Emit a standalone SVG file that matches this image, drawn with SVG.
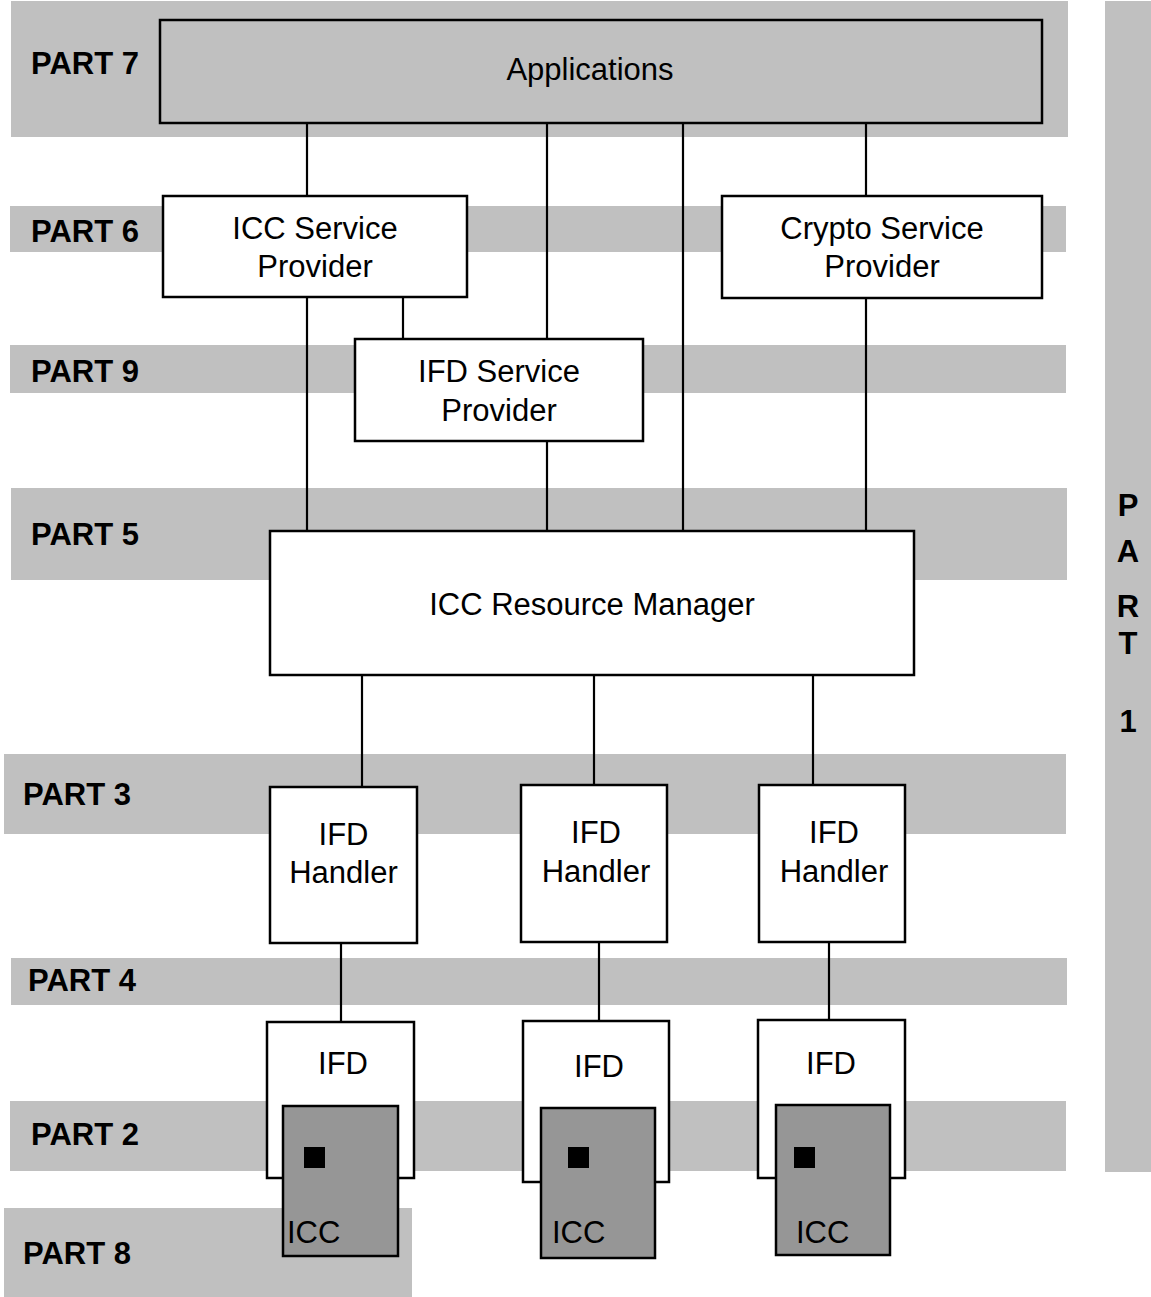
<svg xmlns="http://www.w3.org/2000/svg" width="1151" height="1297" viewBox="0 0 1151 1297">
<style>
.band{fill:#c0c0c0;stroke:none}
.lbl{font-family:"Liberation Sans",Arial,sans-serif;font-weight:bold;font-size:31px;fill:#000}
.txt{font-family:"Liberation Sans",Arial,sans-serif;font-size:31px;fill:#000;text-anchor:middle}
.box{fill:#fff;stroke:#000;stroke-width:2.5}
.open{fill:none;stroke:#000;stroke-width:2.5}
.card{fill:#969696;stroke:#000;stroke-width:2.5}
.chip{fill:#000}
.conn line{stroke:#000;stroke-width:2.2}
</style>
<g id="bands">
<rect class="band" x="11" y="1" width="1057" height="136"/>
<rect class="band" x="10" y="206" width="1056" height="46"/>
<rect class="band" x="10" y="345" width="1056" height="48"/>
<rect class="band" x="11" y="488" width="1056" height="92"/>
<rect class="band" x="4" y="754" width="1062" height="80"/>
<rect class="band" x="11" y="958" width="1056" height="47"/>
<rect class="band" x="10" y="1101" width="1056" height="70"/>
<rect class="band" x="4" y="1208" width="408" height="89"/>
<rect class="band" x="1105" y="1" width="46" height="1171"/>
</g>
<g id="labels">
<text class="lbl" x="31" y="74">PART 7</text>
<text class="lbl" x="31" y="242">PART 6</text>
<text class="lbl" x="31" y="382">PART 9</text>
<text class="lbl" x="31" y="545">PART 5</text>
<text class="lbl" x="23" y="805">PART 3</text>
<text class="lbl" x="28" y="991">PART 4</text>
<text class="lbl" x="31" y="1145">PART 2</text>
<text class="lbl" x="23" y="1264">PART 8</text>
<g class="lbl" text-anchor="middle">
<text x="1128" y="516">P</text>
<text x="1128" y="562">A</text>
<text x="1128" y="617">R</text>
<text x="1128" y="654">T</text>
<text x="1128" y="732">1</text>
</g>
</g>
<g class="conn" id="connectors">
<line x1="307" y1="123" x2="307" y2="196"/>
<line x1="547" y1="123" x2="547" y2="339"/>
<line x1="683" y1="123" x2="683" y2="531"/>
<line x1="866" y1="123" x2="866" y2="196"/>
<line x1="307" y1="297" x2="307" y2="531"/>
<line x1="403" y1="297" x2="403" y2="339"/>
<line x1="547" y1="441" x2="547" y2="531"/>
<line x1="866" y1="298" x2="866" y2="531"/>
<line x1="362" y1="675" x2="362" y2="787"/>
<line x1="594" y1="675" x2="594" y2="785"/>
<line x1="813" y1="675" x2="813" y2="785"/>
<line x1="341" y1="943" x2="341" y2="1022"/>
<line x1="599" y1="942" x2="599" y2="1021"/>
<line x1="829" y1="942" x2="829" y2="1020"/>
</g>
<g id="applications">
<rect class="open" x="160" y="20" width="882" height="103"/>
<text class="txt" x="590" y="80">Applications</text>
</g>
<g id="icc-sp">
<rect class="box" x="163" y="196" width="304" height="101"/>
<text class="txt" x="315" y="239">ICC Service</text>
<text class="txt" x="315" y="277">Provider</text>
</g>
<g id="crypto-sp">
<rect class="box" x="722" y="196" width="320" height="102"/>
<text class="txt" x="882" y="239">Crypto Service</text>
<text class="txt" x="882" y="277">Provider</text>
</g>
<g id="ifd-sp">
<rect class="box" x="355" y="339" width="288" height="102"/>
<text class="txt" x="499" y="382">IFD Service</text>
<text class="txt" x="499" y="421">Provider</text>
</g>
<g id="icc-rm">
<rect class="box" x="270" y="531" width="644" height="144"/>
<text class="txt" x="592" y="615">ICC Resource Manager</text>
</g>
<g id="handler1">
<rect class="box" x="270" y="787" width="147" height="156"/>
<text class="txt" x="343.5" y="845">IFD</text>
<text class="txt" x="343.5" y="883">Handler</text>
</g>
<g id="handler2">
<rect class="box" x="521" y="785" width="146" height="157"/>
<text class="txt" x="596" y="843">IFD</text>
<text class="txt" x="596" y="882">Handler</text>
</g>
<g id="handler3">
<rect class="box" x="759" y="785" width="146" height="157"/>
<text class="txt" x="834" y="843">IFD</text>
<text class="txt" x="834" y="882">Handler</text>
</g>
<g id="ifd1">
<rect class="box" x="267" y="1022" width="147" height="156"/>
<text class="txt" x="343" y="1074">IFD</text>
</g>
<g id="ifd2">
<rect class="box" x="523" y="1021" width="146" height="161"/>
<text class="txt" x="599" y="1077">IFD</text>
</g>
<g id="ifd3">
<rect class="box" x="758" y="1020" width="147" height="158"/>
<text class="txt" x="831" y="1074">IFD</text>
</g>
<g id="icc1">
<rect class="card" x="283" y="1106" width="115" height="150"/>
<rect class="chip" x="304" y="1147" width="21" height="21"/>
<text class="txt" x="287" y="1243" text-anchor="start" style="text-anchor:start">ICC</text>
</g>
<g id="icc2">
<rect class="card" x="541" y="1108" width="114" height="150"/>
<rect class="chip" x="568" y="1147" width="21" height="21"/>
<text class="txt" x="552" y="1243" style="text-anchor:start">ICC</text>
</g>
<g id="icc3">
<rect class="card" x="776" y="1105" width="114" height="150"/>
<rect class="chip" x="794" y="1147" width="21" height="21"/>
<text class="txt" x="796" y="1243" style="text-anchor:start">ICC</text>
</g>
</svg>
